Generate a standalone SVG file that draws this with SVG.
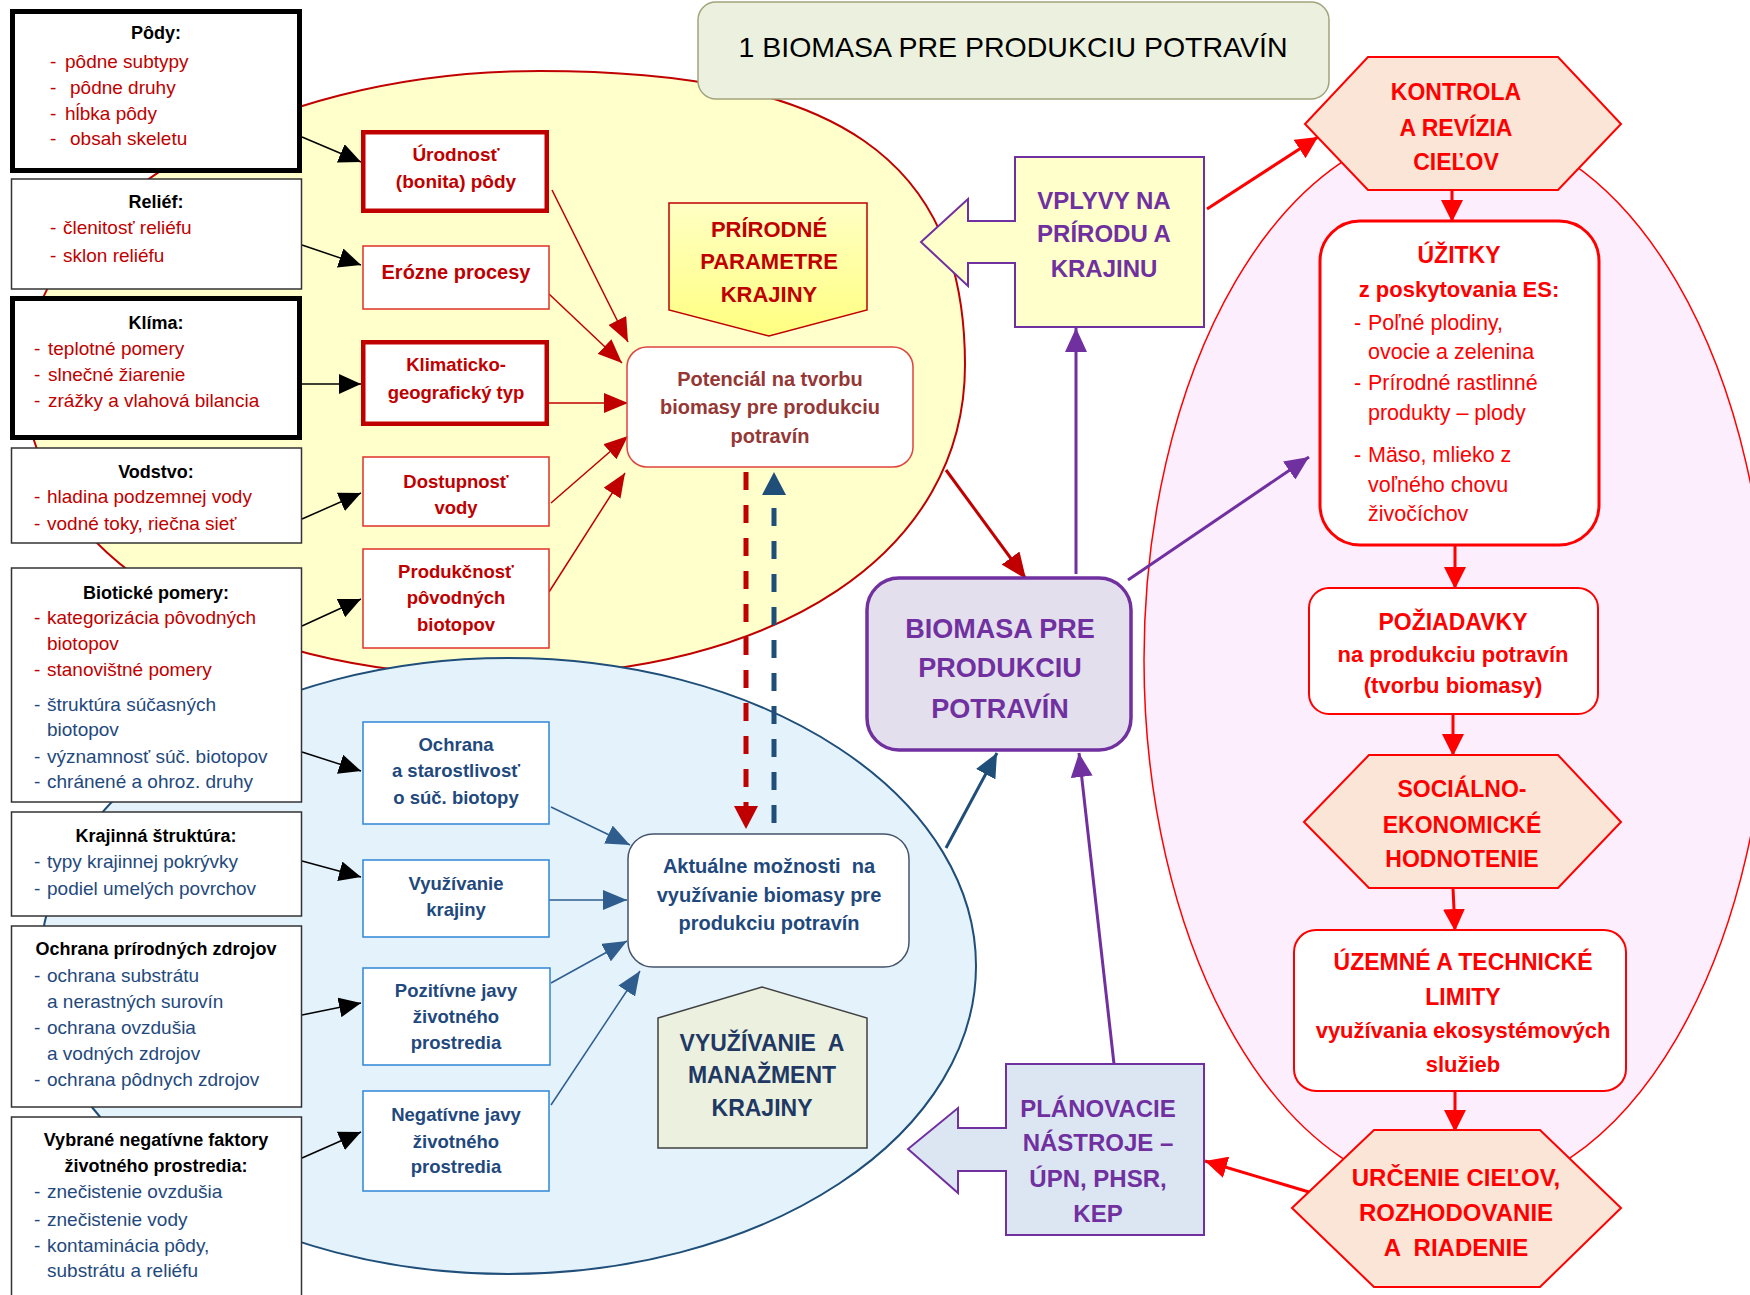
<svg xmlns="http://www.w3.org/2000/svg" width="1750" height="1295" viewBox="0 0 1750 1295">
<style>
text{font-family:"Liberation Sans",Arial,sans-serif}
.c{text-anchor:middle}
.b{font-weight:bold}
.tt{font-weight:bold;font-size:18px;fill:#000;text-anchor:middle}
.li{font-size:19px}
.r{fill:#C00000}
.bl{fill:#1F497D}
.rr{fill:#FF0000}
.pu{fill:#7030A0}
.pre{white-space:pre}
.lbox{fill:#fff;stroke:#333;stroke-width:1.5}
.lboxk{fill:#fff;stroke:#000;stroke-width:5}
.mr{fill:#fff;stroke:#E0302A;stroke-width:1.5}
.mrk{fill:#fff;stroke:#C00000;stroke-width:4.5}
.mb{fill:#fff;stroke:#2F86D6;stroke-width:1.5}
.hex{fill:#FBE5D6;stroke:#FF0000;stroke-width:2}
.rbox{fill:#fff;stroke:#FF0000;stroke-width:2}
</style>
<defs>
<linearGradient id="gy" x1="0" y1="0" x2="0" y2="1"><stop offset="0" stop-color="#FFFFC4"/><stop offset="1" stop-color="#FFFF80"/></linearGradient>
<marker id="hK" markerUnits="userSpaceOnUse" markerWidth="22" markerHeight="20" refX="22" refY="10" orient="auto"><path d="M0,0L22,10L0,20z" fill="#000"/></marker>
<marker id="hDR" markerUnits="userSpaceOnUse" markerWidth="24" markerHeight="20" refX="24" refY="10" orient="auto"><path d="M0,0L24,10L0,20z" fill="#C00000"/></marker>
<marker id="hSB" markerUnits="userSpaceOnUse" markerWidth="24" markerHeight="20" refX="24" refY="10" orient="auto"><path d="M0,0L24,10L0,20z" fill="#2E5D8E"/></marker>
<marker id="hDR2" markerUnits="userSpaceOnUse" markerWidth="26" markerHeight="22" refX="26" refY="11" orient="auto"><path d="M0,0L26,11L0,22z" fill="#C00000"/></marker>
<marker id="hNB" markerUnits="userSpaceOnUse" markerWidth="24" markerHeight="22" refX="24" refY="11" orient="auto"><path d="M0,0L24,11L0,22z" fill="#1F4E79"/></marker>
<marker id="hPU" markerUnits="userSpaceOnUse" markerWidth="24" markerHeight="22" refX="24" refY="11" orient="auto"><path d="M0,0L24,11L0,22z" fill="#7030A0"/></marker>
<marker id="hR" markerUnits="userSpaceOnUse" markerWidth="22" markerHeight="22" refX="22" refY="11" orient="auto"><path d="M0,0L22,11L0,22z" fill="#FF0000"/></marker>
<marker id="hDash" markerUnits="userSpaceOnUse" markerWidth="23" markerHeight="24" refX="0" refY="12" orient="auto"><path d="M0,0L23,12L0,24z" fill="context-stroke"/></marker>
<marker id="hDashR" markerUnits="userSpaceOnUse" markerWidth="23" markerHeight="24" refX="0" refY="12" orient="auto"><path d="M0,0L23,12L0,24z" fill="#C00000"/></marker>
<marker id="hDashB" markerUnits="userSpaceOnUse" markerWidth="23" markerHeight="24" refX="0" refY="12" orient="auto"><path d="M0,0L23,12L0,24z" fill="#1F4E79"/></marker>
</defs>

<rect width="1750" height="1295" fill="#fff"/>

<!-- background zones -->
<g id="zone-prirodne">
<path d="M540,71 C837,71 965,159 965,365 C965,552 779,676 500,676 C224,676 25,551 25,378 C25,209 257,71 540,71 Z" fill="#FFFFCC" stroke="#C00000" stroke-width="2"/>
</g>
<g id="zone-vyuzivanie">
<ellipse cx="508" cy="966" rx="468" ry="308" fill="#E3F2FB" stroke="#1F4E79" stroke-width="2"/>
</g>
<g id="zone-ciele">
<ellipse cx="1456" cy="660" rx="312" ry="535" fill="#FDEEFD" stroke="#FF0000" stroke-width="1.5"/>
</g>

<!-- connectors -->
<g id="connectors" fill="none">
<g stroke="#000" stroke-width="1.5" marker-end="url(#hK)">
<line x1="302" y1="137" x2="361" y2="162"/>
<line x1="302" y1="245" x2="361" y2="265"/>
<line x1="302" y1="384" x2="361" y2="384"/>
<line x1="302" y1="519" x2="361" y2="493"/>
<line x1="302" y1="626" x2="361" y2="599"/>
<line x1="302" y1="752" x2="361" y2="771"/>
<line x1="302" y1="861" x2="361" y2="877"/>
<line x1="302" y1="1015" x2="361" y2="1003"/>
<line x1="302" y1="1158" x2="361" y2="1132"/>
</g>
<g stroke="#C00000" stroke-width="1.5" marker-end="url(#hDR)">
<line x1="552" y1="190" x2="628" y2="342"/>
<line x1="549" y1="294" x2="622" y2="363"/>
<line x1="549" y1="403" x2="628" y2="403"/>
<line x1="551" y1="503" x2="628" y2="436"/>
<line x1="549" y1="592" x2="625" y2="473"/>
</g>
<g stroke="#2E5D8E" stroke-width="1.5" marker-end="url(#hSB)">
<line x1="551" y1="807" x2="630" y2="845"/>
<line x1="549" y1="900" x2="627" y2="900"/>
<line x1="551" y1="983" x2="627" y2="941"/>
<line x1="551" y1="1105" x2="640" y2="971"/>
</g>
<line x1="746" y1="472" x2="746" y2="806" stroke="#C00000" stroke-width="5" stroke-dasharray="18 15" marker-end="url(#hDashR)"/>
<line x1="774" y1="823" x2="774" y2="495" stroke="#1F4E79" stroke-width="5" stroke-dasharray="18 15" marker-end="url(#hDashB)"/>
<line x1="946" y1="470" x2="1026" y2="579" stroke="#C00000" stroke-width="3" marker-end="url(#hDR2)"/>
<line x1="946" y1="848" x2="997" y2="753" stroke="#1F4E79" stroke-width="3" marker-end="url(#hNB)"/>
<g stroke="#7030A0" stroke-width="3" marker-end="url(#hPU)">
<line x1="1076" y1="574" x2="1076" y2="328"/>
<line x1="1128" y1="580" x2="1309" y2="457"/>
<line x1="1114" y1="1064" x2="1079" y2="753"/>
</g>
<g stroke="#FF0000" stroke-width="3" marker-end="url(#hR)">
<line x1="1207" y1="209" x2="1318" y2="137"/>
<line x1="1452" y1="190" x2="1452" y2="222"/>
<line x1="1455" y1="545" x2="1455" y2="589"/>
<line x1="1453" y1="714" x2="1453" y2="756"/>
<line x1="1453" y1="888" x2="1455" y2="931"/>
<line x1="1455" y1="1091" x2="1455" y2="1132"/>
<line x1="1309" y1="1192" x2="1205" y2="1161"/>
</g>
</g>

<!-- left column -->
<g id="n-pody">
<rect class="lboxk" x="12.5" y="11.5" width="287" height="159"/>
<text class="tt" x="156" y="39">Pôdy:</text>
<g class="li r">
<text y="68"><tspan x="50">-</tspan><tspan x="65">pôdne subtypy</tspan></text>
<text y="94"><tspan x="50">-</tspan><tspan x="70">pôdne druhy</tspan></text>
<text y="120"><tspan x="50">-</tspan><tspan x="65">hĺbka pôdy</tspan></text>
<text y="145"><tspan x="50">-</tspan><tspan x="70">obsah skeletu</tspan></text>
</g>
</g>
<g id="n-relief">
<rect class="lbox" x="11.5" y="179" width="290" height="110"/>
<text class="tt" x="156" y="208">Reliéf:</text>
<g class="li r">
<text y="234"><tspan x="50">-</tspan><tspan x="63">členitosť reliéfu</tspan></text>
<text y="262"><tspan x="50">-</tspan><tspan x="63">sklon reliéfu</tspan></text>
</g>
</g>
<g id="n-klima">
<rect class="lboxk" x="12.5" y="298.5" width="287" height="139"/>
<text class="tt" x="156" y="329">Klíma:</text>
<g class="li r">
<text y="355"><tspan x="34">-</tspan><tspan x="48">teplotné pomery</tspan></text>
<text y="381"><tspan x="34">-</tspan><tspan x="48">slnečné žiarenie</tspan></text>
<text y="407"><tspan x="34">-</tspan><tspan x="48">zrážky a vlahová bilancia</tspan></text>
</g>
</g>
<g id="n-vodstvo">
<rect class="lbox" x="11.5" y="448" width="290" height="95"/>
<text class="tt" x="156" y="478">Vodstvo:</text>
<g class="li r">
<text y="503"><tspan x="34">-</tspan><tspan x="47">hladina podzemnej vody</tspan></text>
<text y="530"><tspan x="34">-</tspan><tspan x="47">vodné toky, riečna sieť</tspan></text>
</g>
</g>
<g id="n-bioticke">
<rect class="lbox" x="11.5" y="568" width="290" height="234"/>
<text class="tt" x="156" y="599">Biotické pomery:</text>
<g class="li r">
<text y="624"><tspan x="34">-</tspan><tspan x="47">kategorizácia pôvodných</tspan></text>
<text x="47" y="650">biotopov</text>
<text y="676"><tspan x="34">-</tspan><tspan x="47">stanovištné pomery</tspan></text>
</g>
<g class="li bl">
<text y="711"><tspan x="34">-</tspan><tspan x="47">štruktúra súčasných</tspan></text>
<text x="47" y="736">biotopov</text>
<text y="763"><tspan x="34">-</tspan><tspan x="47">významnosť súč. biotopov</tspan></text>
<text y="788"><tspan x="34">-</tspan><tspan x="47">chránené a ohroz. druhy</tspan></text>
</g>
</g>
<g id="n-krajinna">
<rect class="lbox" x="11.5" y="812" width="290" height="104"/>
<text class="tt" x="156" y="842">Krajinná štruktúra:</text>
<g class="li bl">
<text y="868"><tspan x="34">-</tspan><tspan x="47">typy krajinnej pokrývky</tspan></text>
<text y="895"><tspan x="34">-</tspan><tspan x="47">podiel umelých povrchov</tspan></text>
</g>
</g>
<g id="n-ochrana-zdrojov">
<rect class="lbox" x="11.5" y="926" width="290" height="181"/>
<text class="tt" x="156" y="955">Ochrana prírodných zdrojov</text>
<g class="li bl">
<text y="982"><tspan x="34">-</tspan><tspan x="47">ochrana substrátu</tspan></text>
<text x="47" y="1008">a nerastných surovín</text>
<text y="1034"><tspan x="34">-</tspan><tspan x="47">ochrana ovzdušia</tspan></text>
<text x="47" y="1060">a vodných zdrojov</text>
<text y="1086"><tspan x="34">-</tspan><tspan x="47">ochrana pôdnych zdrojov</tspan></text>
</g>
</g>
<g id="n-negativne-faktory">
<rect class="lbox" x="11.5" y="1117" width="290" height="200"/>
<text class="tt" x="156" y="1146">Vybrané negatívne faktory</text>
<text class="tt" x="156" y="1172">životného prostredia:</text>
<g class="li bl">
<text y="1198"><tspan x="34">-</tspan><tspan x="47">znečistenie ovzdušia</tspan></text>
<text y="1226"><tspan x="34">-</tspan><tspan x="47">znečistenie vody</tspan></text>
<text y="1252"><tspan x="34">-</tspan><tspan x="47">kontaminácia pôdy,</tspan></text>
<text x="47" y="1277">substrátu a reliéfu</text>
</g>
</g>

<!-- middle column -->
<g id="n-urodnost">
<rect class="mrk" x="363.25" y="132.25" width="183.5" height="78.5"/>
<g class="b c r" font-size="19"><text x="456" y="161">Úrodnosť</text><text x="456" y="188">(bonita) pôdy</text></g>
</g>
<g id="n-erozne">
<rect class="mr" x="363" y="246" width="186" height="63"/>
<text class="b c r" font-size="20" x="456" y="279">Erózne procesy</text>
</g>
<g id="n-klimaticko">
<rect class="mrk" x="363.25" y="342.25" width="183.5" height="81.5"/>
<g class="b c r" font-size="18.5"><text x="456" y="371">Klimaticko-</text><text x="456" y="399">geografický typ</text></g>
</g>
<g id="n-dostupnost">
<rect class="mr" x="363" y="457" width="186" height="69"/>
<g class="b c r" font-size="18.5"><text x="456" y="488">Dostupnosť</text><text x="456" y="514">vody</text></g>
</g>
<g id="n-produkcnost">
<rect class="mr" x="363" y="549" width="186" height="99"/>
<g class="b c r" font-size="18.5"><text x="456" y="578">Produkčnosť</text><text x="456" y="604">pôvodných</text><text x="456" y="631">biotopov</text></g>
</g>
<g id="n-ochrana-biotopy">
<rect class="mb" x="363" y="722" width="186" height="102"/>
<g class="b c bl" font-size="18.5"><text x="456" y="751">Ochrana</text><text x="456" y="777">a starostlivosť</text><text x="456" y="804">o súč. biotopy</text></g>
</g>
<g id="n-vyuzivanie-krajiny">
<rect class="mb" x="363" y="860" width="186" height="77"/>
<g class="b c bl" font-size="18.5"><text x="456" y="890">Využívanie</text><text x="456" y="916">krajiny</text></g>
</g>
<g id="n-pozitivne">
<rect class="mb" x="363" y="968" width="187" height="97"/>
<g class="b c bl" font-size="18.5"><text x="456" y="997">Pozitívne javy</text><text x="456" y="1023">životného</text><text x="456" y="1049">prostredia</text></g>
</g>
<g id="n-negativne">
<rect class="mb" x="363" y="1091" width="186" height="100"/>
<g class="b c bl" font-size="18.5"><text x="456" y="1121">Negatívne javy</text><text x="456" y="1148">životného</text><text x="456" y="1173">prostredia</text></g>
</g>

<!-- center -->
<g id="n-title">
<rect x="698" y="2" width="631" height="97" rx="18" fill="#EBF1DE" stroke="#A3A37C" stroke-width="1.5"/>
<text class="c" x="1013" y="57" font-size="28.5" fill="#000">1 BIOMASA PRE PRODUKCIU POTRAVÍN</text>
</g>
<g id="n-prirodne-parametre">
<polygon points="669,203 867,203 867,310 769,336 669,310" fill="url(#gy)" stroke="#C00000" stroke-width="1.5"/>
<g class="b c r" font-size="22"><text x="769" y="237">PRÍRODNÉ</text><text x="769" y="269">PARAMETRE</text><text x="769" y="302">KRAJINY</text></g>
</g>
<g id="n-potencial">
<rect x="627" y="347" width="286" height="120" rx="20" fill="#fff" stroke="#E0443E" stroke-width="1.5"/>
<g class="b c" font-size="20" fill="#953735"><text x="770" y="386">Potenciál na tvorbu</text><text x="770" y="414">biomasy pre produkciu</text><text x="770" y="443">potravín</text></g>
</g>
<g id="n-vplyvy">
<path d="M1015,157H1204V327H1015V263H968V286L921,242L968,199V221H1015Z" fill="#FFFFCC" stroke="#7030A0" stroke-width="2"/>
<g class="b c pu" font-size="24"><text x="1104" y="209">VPLYVY NA</text><text x="1104" y="242">PRÍRODU A</text><text x="1104" y="277">KRAJINU</text></g>
</g>
<g id="n-biomasa">
<rect x="867" y="578" width="264" height="172" rx="32" fill="#E4DFEC" stroke="#7030A0" stroke-width="3.5"/>
<g class="b c pu" font-size="27"><text x="1000" y="638">BIOMASA PRE</text><text x="1000" y="677">PRODUKCIU</text><text x="1000" y="718">POTRAVÍN</text></g>
</g>
<g id="n-aktualne">
<rect x="628" y="834" width="281" height="133" rx="25" fill="#fff" stroke="#44546A" stroke-width="1.5"/>
<g class="b c bl" font-size="20"><text class="pre" x="769" y="873">Aktuálne možnosti  na</text><text x="769" y="902">využívanie biomasy pre</text><text x="769" y="930">produkciu potravín</text></g>
</g>
<g id="n-vyuzivanie-manazment">
<polygon points="658,1018 762,987 867,1018 867,1148 658,1148" fill="#EBF1DE" stroke="#404040" stroke-width="1.5"/>
<g class="b c" font-size="23" fill="#1F3864"><text class="pre" x="762" y="1051">VYUŽÍVANIE  A</text><text x="762" y="1083">MANAŽMENT</text><text x="762" y="1116">KRAJINY</text></g>
</g>
<g id="n-planovacie">
<path d="M1006,1064H1204V1235H1006V1171H958V1193L908,1149L958,1108V1128H1006Z" fill="#DCE6F2" stroke="#7030A0" stroke-width="2"/>
<g class="b c pu" font-size="24"><text x="1098" y="1117">PLÁNOVACIE</text><text x="1098" y="1151">NÁSTROJE –</text><text x="1098" y="1187">ÚPN, PHSR,</text><text x="1098" y="1222">KEP</text></g>
</g>

<!-- right column -->
<g id="n-kontrola">
<polygon class="hex" points="1305,124 1368,57 1558,57 1621,124 1558,190 1368,190"/>
<g class="b c rr" font-size="23"><text x="1456" y="100">KONTROLA</text><text x="1456" y="136">A REVÍZIA</text><text x="1456" y="170">CIEĽOV</text></g>
</g>
<g id="n-uzitky">
<rect x="1320" y="221" width="279" height="324" rx="40" fill="#fff" stroke="#FF0000" stroke-width="3"/>
<text class="b c rr" font-size="23" x="1459" y="263">ÚŽITKY</text>
<text class="b c rr" font-size="22" x="1459" y="297">z poskytovania ES:</text>
<g class="rr" font-size="21.5">
<text y="330"><tspan x="1354">-</tspan><tspan x="1368">Poľné plodiny,</tspan></text>
<text x="1368" y="359">ovocie a zelenina</text>
<text y="390"><tspan x="1354">-</tspan><tspan x="1368">Prírodné rastlinné</tspan></text>
<text x="1368" y="420">produkty – plody</text>
<text y="462"><tspan x="1354">-</tspan><tspan x="1368">Mäso, mlieko z</tspan></text>
<text x="1368" y="492">voľného chovu</text>
<text x="1368" y="521">živočíchov</text>
</g>
</g>
<g id="n-poziadavky">
<rect class="rbox" x="1309" y="588" width="289" height="126" rx="20"/>
<text class="b c rr" font-size="23" x="1453" y="630">POŽIADAVKY</text>
<text class="b c rr" font-size="22" x="1453" y="662">na produkciu potravín</text>
<text class="b c rr" font-size="22" x="1453" y="693">(tvorbu biomasy)</text>
</g>
<g id="n-socialno">
<polygon class="hex" points="1304,822 1369,755 1558,755 1621,822 1558,888 1369,888"/>
<g class="b c rr" font-size="23"><text x="1462" y="797">SOCIÁLNO-</text><text x="1462" y="833">EKONOMICKÉ</text><text x="1462" y="867">HODNOTENIE</text></g>
</g>
<g id="n-uzemne">
<rect class="rbox" x="1294" y="930" width="332" height="161" rx="22"/>
<text class="b c rr" font-size="23" x="1463" y="970">ÚZEMNÉ A TECHNICKÉ</text>
<text class="b c rr" font-size="23" x="1463" y="1005">LIMITY</text>
<text class="b c rr" font-size="22" x="1463" y="1038">využívania ekosystémových</text>
<text class="b c rr" font-size="22" x="1463" y="1072">služieb</text>
</g>
<g id="n-urcenie">
<polygon class="hex" points="1292,1208 1374,1130 1540,1130 1621,1208 1540,1287 1374,1287"/>
<g class="b c rr" font-size="24"><text x="1456" y="1186">URČENIE CIEĽOV,</text><text x="1456" y="1221">ROZHODOVANIE</text><text class="pre" x="1456" y="1256">A  RIADENIE</text></g>
</g>
</svg>
